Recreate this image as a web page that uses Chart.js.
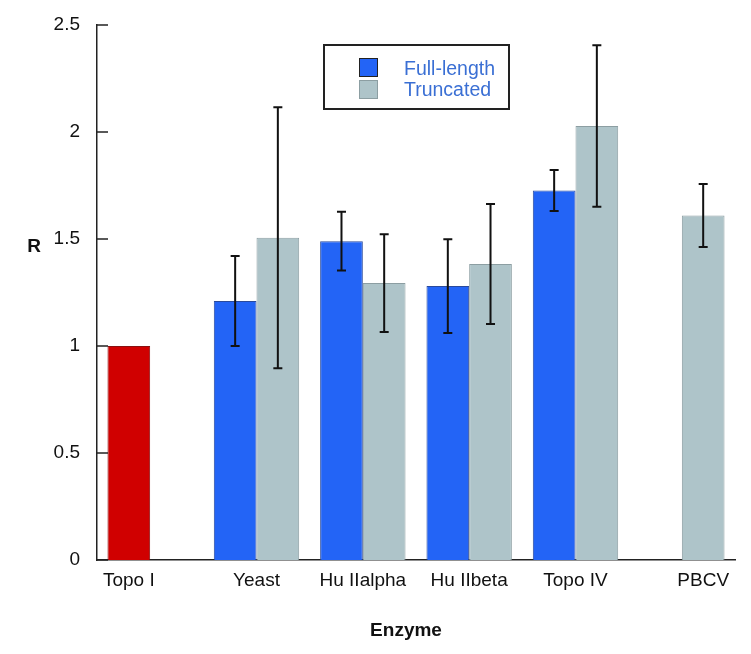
<!DOCTYPE html>
<html lang="en">
<head>
    <meta charset="UTF-8">
    <title>Enzyme R</title>
    <script src="https://cdn.jsdelivr.net/npm/chart.js"></script>
    <style>
        body { margin: 0; padding: 0; background: #fff; }
        #wrap { width: 751px; height: 654px; }
    </style>
</head>
<body>
    <div id="wrap"><canvas id="rChart" width="751" height="654"></canvas></div>
    <script>
        const enzymes = ['Topo I', 'Yeast', 'Hu IIalpha', 'Hu IIbeta', 'Topo IV', 'PBCV'];
        const fullLength = [1.0, 1.21, 1.49, 1.28, 1.727, null];
        const fullLengthErr = [null, 0.21, 0.137, 0.219, 0.096, null];
        const truncated = [null, 1.506, 1.294, 1.383, 2.028, 1.61];
        const truncatedErr = [null, 0.61, 0.228, 0.28, 0.377, 0.147];
        const yTicks = [0, 0.5, 1, 1.5, 2, 2.5];

        const FONT = "'Liberation Sans', Arial, sans-serif";
        Chart.defaults.font.family = FONT;
        Chart.defaults.font.size = 19;
        Chart.defaults.color = '#111';

        const blue = '#2364f6';
        const red = '#d00000';
        const grey = '#aec4c9';

        // error bars, inward y ticks, x labels under the bars that exist, axis titles, boxed legend
        const extras = {
            id: 'extras',
            afterDatasetsDraw(chart) {
                const ctx = chart.ctx;
                const y = chart.scales.y;
                const x = chart.scales.x;
                const area = chart.chartArea;
                ctx.save();

                // error bars
                const errs = [fullLengthErr, truncatedErr];
                chart.data.datasets.forEach((ds, di) => {
                    const meta = chart.getDatasetMeta(di);
                    meta.data.forEach((bar, i) => {
                        const v = ds.data[i], e = errs[di][i];
                        if (v == null || e == null) return;
                        const top = y.getPixelForValue(v + e);
                        const bot = y.getPixelForValue(v - e);
                        ctx.strokeStyle = '#111';
                        ctx.lineWidth = 2;
                        ctx.beginPath();
                        ctx.moveTo(bar.x, top); ctx.lineTo(bar.x, bot);
                        ctx.moveTo(bar.x - 4.5, top); ctx.lineTo(bar.x + 4.5, top);
                        ctx.moveTo(bar.x - 4.5, bot); ctx.lineTo(bar.x + 4.5, bot);
                        ctx.stroke();
                    });
                });

                // inward ticks on y axis
                ctx.strokeStyle = '#222';
                ctx.lineWidth = 1.5;
                yTicks.forEach(t => {
                    const py = y.getPixelForValue(t);
                    ctx.beginPath();
                    ctx.moveTo(area.left, py); ctx.lineTo(area.left + 11, py);
                    ctx.stroke();
                });

                // category labels centred under the bars present
                ctx.fillStyle = '#111';
                ctx.font = '19px ' + FONT;
                ctx.textAlign = 'center';
                ctx.textBaseline = 'alphabetic';
                enzymes.forEach((name, i) => {
                    const xs = [];
                    chart.data.datasets.forEach((ds, di) => {
                        if (ds.data[i] != null) xs.push(chart.getDatasetMeta(di).data[i].x);
                    });
                    const cx = xs.length ? xs.reduce((a, b) => a + b, 0) / xs.length : x.getPixelForValue(i);
                    ctx.fillText(name, cx, area.bottom + 26);
                });

                // axis titles
                ctx.font = 'bold 19px ' + FONT;
                ctx.textBaseline = 'middle';
                ctx.fillText('Enzyme', 406, 631);
                ctx.fillText('R', 34, 247);

                // legend box
                const lx = 324, ly = 45, lw = 185, lh = 64;
                ctx.fillStyle = '#fff';
                ctx.fillRect(lx, ly, lw, lh);
                ctx.strokeStyle = '#222';
                ctx.lineWidth = 2;
                ctx.strokeRect(lx, ly, lw, lh);
                ctx.font = '19.5px ' + FONT;
                ctx.textAlign = 'left';
                ctx.textBaseline = 'alphabetic';
                chart.data.datasets.forEach((ds, di) => {
                    const sy = 58 + di * 22;
                    ctx.fillStyle = ds.legendColor;
                    ctx.fillRect(359, sy, 19, 19);
                    ctx.strokeStyle = ds.borderColor;
                    ctx.lineWidth = 1;
                    ctx.strokeRect(359.5, sy + 0.5, 18, 18);
                    ctx.fillStyle = '#3a6fd4';
                    ctx.fillText(ds.label, 404, 75 + di * 21);
                });
                ctx.restore();
            }
        };

        const ctx = document.getElementById('rChart').getContext('2d');
        new Chart(ctx, {
            type: 'bar',
            data: {
                labels: enzymes,
                datasets: [{
                    label: 'Full-length',
                    data: fullLength,
                    backgroundColor: enzymes.map((_, i) => i === 0 ? red : blue),
                    borderColor: enzymes.map((_, i) => i === 0 ? '#8a1010' : '#2a4a9c'),
                    legendColor: blue,
                    borderWidth: 1,
                    categoryPercentage: 0.803,
                    barPercentage: 1.0
                }, {
                    label: 'Truncated',
                    data: truncated,
                    backgroundColor: grey,
                    borderColor: '#8c9ea2',
                    legendColor: grey,
                    borderWidth: 1,
                    categoryPercentage: 0.803,
                    barPercentage: 1.0
                }]
            },
            options: {
                responsive: false,
                animation: false,
                layout: { padding: { left: 0, right: 16, top: 25, bottom: 0 } },
                scales: {
                    x: {
                        grid: { display: false, drawTicks: false },
                        border: { display: true, color: '#222', width: 1.5 },
                        ticks: { display: false },
                        afterFit(scale) { scale.height = 94; }
                    },
                    y: {
                        min: 0,
                        max: 2.5,
                        afterBuildTicks(scale) { scale.ticks = yTicks.map(v => ({ value: v })); },
                        grid: { display: false, drawTicks: false, tickLength: 0 },
                        border: { display: true, color: '#222', width: 1.5 },
                        ticks: {
                            padding: 17,
                            color: '#111',
                            font: { size: 19 },
                            callback: v => String(v)
                        },
                        afterFit(scale) {
                            scale.width = 97;
                            scale.paddingTop = 0;
                            scale.paddingBottom = 0;
                        }
                    }
                },
                plugins: {
                    legend: { display: false },
                    tooltip: { enabled: false }
                }
            },
            plugins: [extras]
        });
    </script>
</body>
</html>
